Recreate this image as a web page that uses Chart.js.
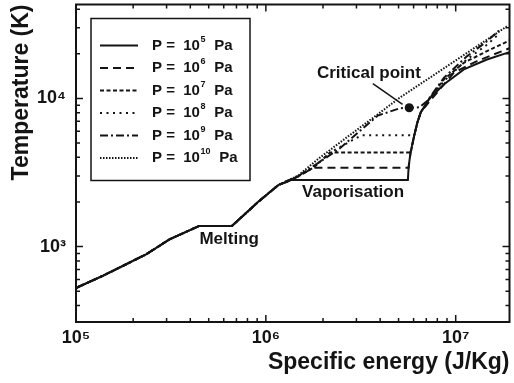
<!DOCTYPE html>
<html>
<head>
<meta charset="utf-8">
<script src="https://cdn.jsdelivr.net/npm/chart.js@4.4.0/dist/chart.umd.min.js"></script>
<style>
html, body { margin: 0; padding: 0; background: #fff; }
#wrap { width: 514px; height: 383px; }
</style>
</head>
<body>
<div id="wrap"><canvas id="chart" width="514" height="383"></canvas></div>
<script>
// shared low-energy part (solid heating + melting), same for all pressures
var baseE = [1.0e5, 1.39e5, 2.35e5, 3.11e5, 4.46e5, 6.63e5, 9.18e5, 1.168e6];
var baseT = [526, 637, 889, 1120, 1380, 1380, 2020, 2611];

// P = 1e5 Pa
var p5E = [1.37e6, 5.6e6, 5.65e6, 5.79e6, 6.05e6, 6.29e6, 6.55e6, 7.24e6, 8.68e6, 1.104e7, 1.461e7, 1.92e7];
var p5T = [2820, 2820, 3460, 4357, 5634, 6915, 8064, 9893, 12460, 15700, 18300, 20510];
// P = 1e6 Pa
var p6E = [1.37e6, 1.78e6, 5.65e6, 5.79e6, 6.05e6, 6.29e6, 6.55e6, 7.36e6, 9.78e6, 1.295e7, 1.92e7];
var p6T = [2820, 3407, 3407, 4357, 5634, 6915, 8064, 9697, 14920, 17860, 21800];
// P = 1e7 Pa
var p7E = [1.37e6, 1.78e6, 2.18e6, 5.8e6, 6.05e6, 6.29e6, 6.55e6, 7.24e6, 8.68e6, 1.104e7, 1.461e7, 1.92e7];
var p7T = [2820, 3407, 4311, 4311, 5634, 6915, 8064, 9893, 13450, 17400, 20830, 24600];
// P = 1e8 Pa
var p8E = [1.37e6, 1.78e6, 2.18e6, 3.18e6, 6.05e6, 6.29e6, 6.55e6, 7.24e6, 8.68e6, 1.149e7, 1.461e7, 1.71e7];
var p8T = [2820, 3407, 4311, 5634, 5634, 6915, 8064, 9893, 13100, 18400, 23000, 27600];
// P = 1e9 Pa
var p9E = [1.48e6, 2.4e6, 3.89e6, 4.39e6, 5.07e6, 6.45e6, 7.1e6, 8.68e6, 1.149e7, 1.461e7, 1.71e7];
var p9T = [2990, 4500, 7660, 8064, 8576, 8708, 9652, 13810, 19290, 24290, 29040];
// P = 1e10 Pa
var p10E = [1.48e6, 1.89e6, 2.4e6, 3.89e6, 5.07e6, 8.01e6, 1.295e7, 1.86e7];
var p10T = [3013, 3913, 4930, 7820, 10110, 14920, 22490, 30590];

var critE = [5.69e6];
var critT = [8650];

var pressureExp = [5, 6, 7, 8, 9, 10];
var xTicks = [1e5, 2e5, 3e5, 4e5, 5e5, 6e5, 7e5, 8e5, 9e5, 1e6, 2e6, 3e6, 4e6, 5e6, 6e6, 7e6, 8e6, 9e6, 1e7];
var yTicks = [400, 500, 600, 700, 800, 900, 1000, 2000, 3000, 4000, 5000, 6000, 7000, 8000, 9000, 10000, 20000, 30000, 40000];

// annotation anchors in data units
var notes = [
    { text: 'Critical point', e: 3.49e6, t: 14690 },
    { text: 'Vaporisation', e: 2.88e6, t: 2320 },
    { text: 'Melting', e: 6.41e5, t: 1126 }
];
var arrowE = [3.66e6, 5.25e6];
var arrowT = [12590, 9120];

var ink = '#141414';
var fontName = '"Liberation Sans", Arial, Helvetica, sans-serif';
var sup = { 3: '\u00b3', 4: '\u2074', 5: '\u2075', 6: '\u2076', 7: '\u2077' };

function pts(e, t) {
    return e.map(function(v, i) { return { x: v, y: t[i] }; });
}
function withBase(e, t) {
    return pts(baseE.concat(e), baseT.concat(t));
}
function decadeLabel(v) {
    var l = Math.log10(v);
    var r = Math.round(l);
    if (Math.abs(l - r) < 1e-9) return '10' + sup[r];
    return '';
}

var dashes = [[], [8, 5], [4, 2.5], [2, 4.5], [8, 3, 2, 3], [1.5, 1.5]];
var series = [[p5E, p5T], [p6E, p6T], [p7E, p7T], [p8E, p8T], [p9E, p9T], [p10E, p10T]];

var datasets = series.map(function(s, i) {
    return {
        label: 'P = 10^' + pressureExp[i] + ' Pa',
        data: withBase(s[0], s[1]),
        showLine: true,
        borderColor: ink,
        borderWidth: 2,
        borderDash: dashes[i],
        pointRadius: 0,
        tension: 0,
        fill: false
    };
});
datasets.push({
    label: 'critical',
    data: pts(critE, critT),
    showLine: false,
    pointRadius: 4.5,
    pointBackgroundColor: ink,
    pointBorderColor: ink,
    borderWidth: 0
});

var framePlugin = {
    id: 'frame',
    afterDraw: function(chart) {
        var ctx = chart.ctx, a = chart.chartArea;
        var xs = chart.scales.x, ys = chart.scales.y;
        ctx.save();
        ctx.strokeStyle = ink;
        ctx.lineWidth = 2;
        ctx.strokeRect(a.left, a.top, a.right - a.left, a.bottom - a.top);
        ctx.lineWidth = 1.5;
        ctx.beginPath();
        xTicks.forEach(function(v) {
            var px = xs.getPixelForValue(v);
            var len = decadeLabel(v) ? 7 : 4;
            ctx.moveTo(px, a.bottom); ctx.lineTo(px, a.bottom - len);
            ctx.moveTo(px, a.top); ctx.lineTo(px, a.top + len);
        });
        yTicks.forEach(function(v) {
            var py = ys.getPixelForValue(v);
            var len = decadeLabel(v) ? 7 : 4;
            ctx.moveTo(a.left, py); ctx.lineTo(a.left + len, py);
            ctx.moveTo(a.right, py); ctx.lineTo(a.right - len, py);
        });
        ctx.stroke();

        // notes
        ctx.fillStyle = ink;
        ctx.font = 'bold 17px ' + fontName;
        ctx.textAlign = 'center';
        ctx.textBaseline = 'middle';
        notes.forEach(function(n) {
            ctx.fillText(n.text, xs.getPixelForValue(n.e), ys.getPixelForValue(n.t));
        });
        ctx.lineWidth = 1.5;
        ctx.beginPath();
        ctx.moveTo(xs.getPixelForValue(arrowE[0]), ys.getPixelForValue(arrowT[0]));
        ctx.lineTo(xs.getPixelForValue(arrowE[1]), ys.getPixelForValue(arrowT[1]));
        ctx.stroke();

        // legend box
        var bx = a.left + 15, by = a.top + 14, bw = 159, bh = 162;
        ctx.lineWidth = 1.5;
        ctx.strokeRect(bx, by, bw, bh);
        for (var i = 0; i < 6; i++) {
            var ly = by + 27 + i * 22.5;
            ctx.save();
            ctx.lineWidth = 2;
            ctx.setLineDash(dashes[i]);
            ctx.beginPath();
            ctx.moveTo(bx + 9, ly); ctx.lineTo(bx + 47, ly);
            ctx.stroke();
            ctx.restore();
            ctx.textAlign = 'left';
            ctx.font = 'bold 15px ' + fontName;
            var tx = bx + 61;
            ctx.fillText('P =  10', tx, ly);
            var w = ctx.measureText('P =  10').width;
            ctx.font = 'bold 9px ' + fontName;
            var es = String(pressureExp[i]);
            ctx.fillText(es, tx + w + 0.5, ly - 6);
            var ew = ctx.measureText(es).width;
            ctx.font = 'bold 15px ' + fontName;
            ctx.fillText('  Pa', tx + w + ew + 1, ly);
        }
        ctx.restore();
    }
};

new Chart(document.getElementById('chart'), {
    type: 'scatter',
    data: { datasets: datasets },
    options: {
        responsive: false,
        animation: false,
        devicePixelRatio: 1,
        layout: { padding: { top: 1.5, right: 1.5, left: 0, bottom: 0 } },
        plugins: { legend: { display: false }, tooltip: { enabled: false } },
        scales: {
            x: {
                type: 'logarithmic',
                min: 1e5,
                max: 1.92e7,
                grid: { display: false, drawTicks: false },
                border: { display: false },
                afterBuildTicks: function(s) { s.ticks = xTicks.map(function(v) { return { value: v }; }); },
                afterFit: function(s) { s.height = 61; s.paddingLeft = 0; s.paddingRight = 0; },
                ticks: {
                    autoSkip: false, maxRotation: 0, padding: 5, color: ink,
                    font: { family: fontName, size: 18, weight: 'bold' },
                    callback: function(v) { return decadeLabel(v); }
                },
                title: {
                    display: true, text: 'Specific energy (J/Kg)', align: 'end', color: ink,
                    font: { family: fontName, size: 23, weight: 'bold' },
                    padding: { top: 0, bottom: 7 }
                }
            },
            y: {
                type: 'logarithmic',
                min: 310,
                max: 43000,
                grid: { display: false, drawTicks: false },
                border: { display: false },
                afterBuildTicks: function(s) { s.ticks = yTicks.map(function(v) { return { value: v }; }); },
                afterFit: function(s) { s.width = 76; s.paddingTop = 0; s.paddingBottom = 0; },
                ticks: {
                    autoSkip: false, padding: 10, color: ink,
                    font: { family: fontName, size: 18, weight: 'bold' },
                    callback: function(v) { return decadeLabel(v); }
                },
                title: {
                    display: true, text: 'Temperature (K)', align: 'end', color: ink,
                    font: { family: fontName, size: 23, weight: 'bold' },
                    padding: { top: 8, bottom: 0 }
                }
            }
        }
    },
    plugins: [framePlugin]
});
</script>
</body>
</html>
